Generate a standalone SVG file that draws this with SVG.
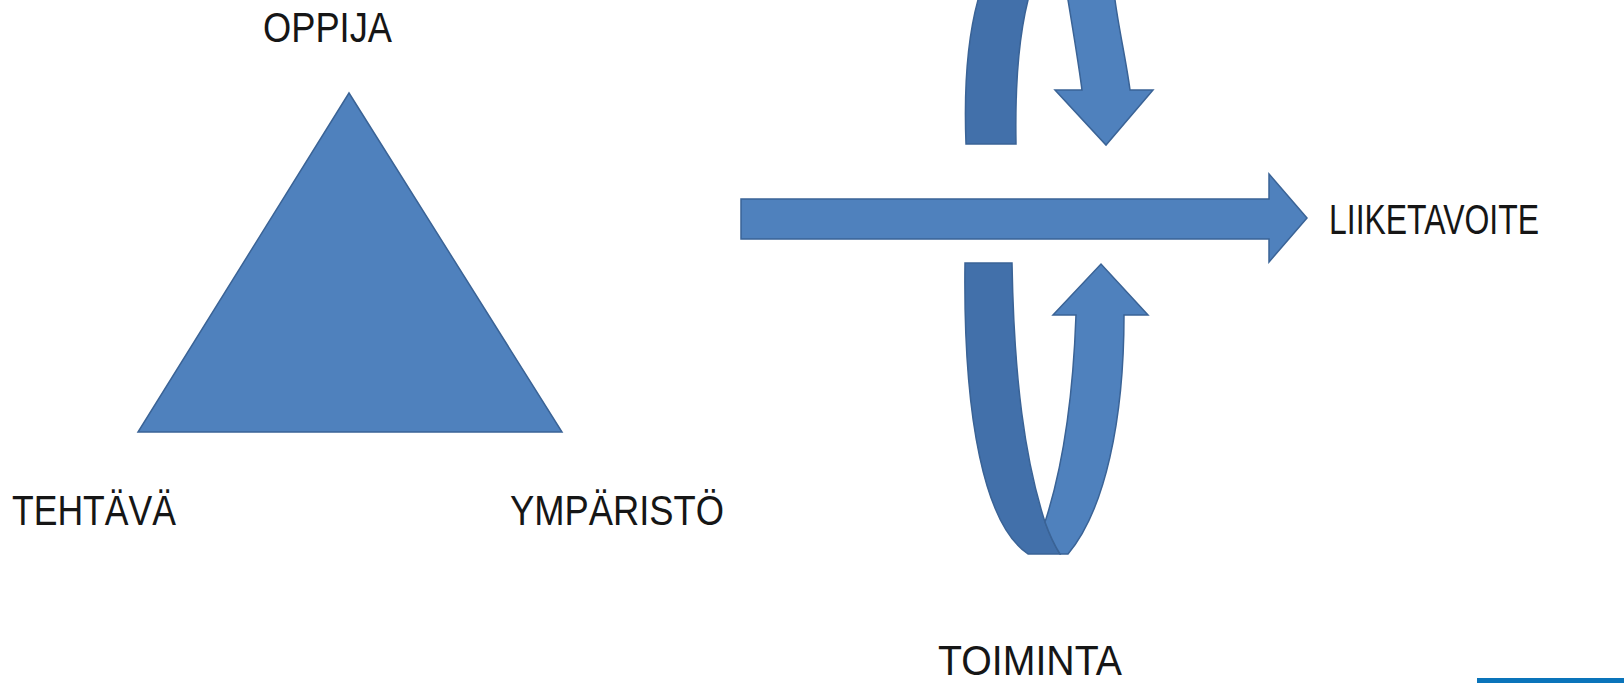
<svg xmlns="http://www.w3.org/2000/svg" width="1624" height="683" viewBox="0 0 1624 683">
<style>
.shape{fill:#4f81bd;stroke:#3a6396;stroke-width:1.5;stroke-linejoin:miter}
.dark{fill:#4270aa;stroke:#3a6396;stroke-width:1.5}
.lbl{font-family:"Liberation Sans Narrow","Liberation Sans",Arial,sans-serif;font-size:42px;fill:#161616}
</style>
<rect width="1624" height="683" fill="#ffffff"/>
<g id="triangle">
<polygon class="shape" points="349,93 562,432 138,432"/>
</g>
<g id="label-oppija"><text class="lbl" x="263" y="42" textLength="129" lengthAdjust="spacingAndGlyphs">OPPIJA</text></g>
<g id="label-tehtava"><text class="lbl" x="12" y="525" textLength="164" lengthAdjust="spacingAndGlyphs">TEHTÄVÄ</text></g>
<g id="label-ymparisto"><text class="lbl" x="510" y="525" textLength="214" lengthAdjust="spacingAndGlyphs">YMPÄRISTÖ</text></g>
<g id="label-liiketavoite"><text class="lbl" x="1329" y="234" textLength="210" lengthAdjust="spacingAndGlyphs">LIIKETAVOITE</text></g>
<g id="label-toiminta"><text class="lbl" x="938" y="675" font-size="41" textLength="184" lengthAdjust="spacingAndGlyphs">TOIMINTA</text></g>
<g id="connectors">
<path id="main-arrow" class="shape" d="M741,199 L1269,199 L1269,174 L1307,218 L1269,262 L1269,239 L741,239 Z"/>
<g id="top-loop">
<path class="dark" d="M966,144 C964,90 967,40 978,0 C982,-15 990,-30 1000,-40 L1050,-40 C1040,-25 1032,-12 1028,0 C1018,40 1015,90 1016,144 Z"/>
<path class="shape" d="M1068,0 C1066,-10 1060,-25 1050,-40 L1100,-40 C1108,-25 1113,-10 1115,0 C1119,30 1126,60 1130,90 L1153,90 L1106,145 L1055,90 L1082,90 C1078,60 1073,30 1068,0 Z"/>
</g>
<g id="bottom-loop">
<path class="dark" d="M965,263 L1012,263 C1014,380 1025,460 1045,522 C1050,536 1055,546 1060,554 L1028,554 C985,525 963,420 965,263 Z"/>
<path class="shape" d="M1076,315 L1053,315 L1101,264 L1148,315 L1124,315 C1124,420 1105,510 1068,554 L1060,554 C1055,546 1050,536 1045,522 C1062,470 1073,400 1076,315 Z"/>
</g>
</g>
<rect id="corner-bar" x="1477" y="678" width="147" height="5" fill="#0a74ba"/>
</svg>
